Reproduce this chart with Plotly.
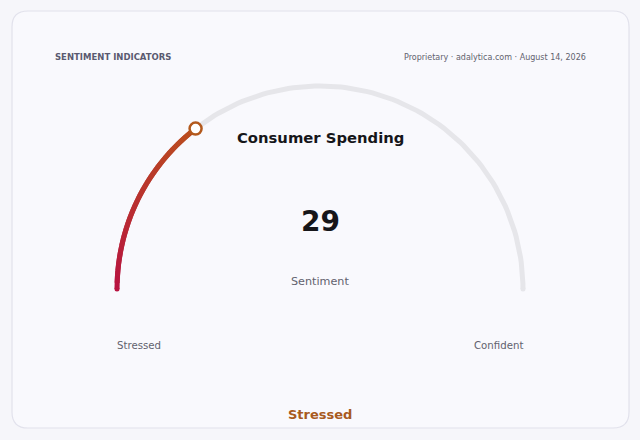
import plotly.graph_objects as go

# gauge data
TITLE = "Consumer Spending"
METRIC = "Sentiment"
VALUE = 29
VMIN, VMAX = 0, 100
LOW_LABEL = "Stressed"
HIGH_LABEL = "Confident"
STATUS = "Stressed"
HEADER = "SENTIMENT INDICATORS"
SOURCE = "Proprietary · adalytica.com · August 14, 2026"

COLOURS = {
    "page": "#f6f6fa", "card": "#f9f9fd", "border": "#e2e2ec",
    "track": "#e6e6ea", "start": (184, 20, 64), "end": (186, 78, 30),
    "ring": "#b3591c", "status": "#a85a1e", "text": "#16161a",
    "muted": "#62626e", "header": "#5a5a70",
}

W, H = 640, 440
CX, CY, R = 320, 289, 203      # gauge centre / radius in pixel space
FONT = "DejaVu Sans, sans-serif"


def arc_xy(v0, v1, n=60):
    import math
    xs, ys = [], []
    for i in range(n + 1):
        v = v0 + (v1 - v0) * i / n
        a = math.pi * (1 - (v - VMIN) / (VMAX - VMIN))
        xs.append(CX + R * math.cos(a))
        ys.append(CY - R * math.sin(a))
    return xs, ys


def mix(t):
    s, e = COLOURS["start"], COLOURS["end"]
    return "rgb(%d,%d,%d)" % tuple(round(s[k] + (e[k] - s[k]) * t) for k in range(3))


fig = go.Figure()

# grey track
tx, ty = arc_xy(VMIN, VMAX, 120)
fig.add_trace(go.Scatter(x=tx, y=ty, mode="lines", hoverinfo="skip",
                         line=dict(color=COLOURS["track"], width=5)))
fig.add_trace(go.Scatter(x=[tx[-1]], y=[ty[-1]], mode="markers", hoverinfo="skip",
                         marker=dict(color=COLOURS["track"], size=5)))

# value arc with a gradient, drawn as short overlapping segments
N = 30
step = (VALUE - VMIN) / N
for i in range(N):
    v0 = VMIN + step * i
    v1 = min(VALUE, v0 + step * 2)
    sx, sy = arc_xy(v0, v1, 4)
    fig.add_trace(go.Scatter(x=sx, y=sy, mode="lines", hoverinfo="skip",
                             line=dict(color=mix(i / (N - 1)), width=5)))
fig.add_trace(go.Scatter(x=[tx[0]], y=[ty[0]], mode="markers", hoverinfo="skip",
                         marker=dict(color=mix(0), size=5)))

# needle marker
px, py = arc_xy(VALUE, VALUE, 1)
fig.add_trace(go.Scatter(x=[px[0]], y=[py[0]], mode="markers", hoverinfo="skip",
                         marker=dict(color="white", size=12,
                                     line=dict(color=COLOURS["ring"], width=2.5))))

# card
rr = 16
x0, y0, x1, y1 = 12, 11, 629, 428
card = (f"M {x0+rr},{y0} L {x1-rr},{y0} Q {x1},{y0} {x1},{y0+rr} "
        f"L {x1},{y1-rr} Q {x1},{y1} {x1-rr},{y1} L {x0+rr},{y1} "
        f"Q {x0},{y1} {x0},{y1-rr} L {x0},{y0+rr} Q {x0},{y0} {x0+rr},{y0} Z")
fig.add_shape(type="path", path=card, xref="x", yref="y", layer="below",
              fillcolor=COLOURS["card"], line=dict(color=COLOURS["border"], width=1.2))


def label(x, y, text, size, color, bold=False, anchor="center"):
    fig.add_annotation(x=x, y=y, xref="x", yref="y", showarrow=False,
                       text=f"<b>{text}</b>" if bold else text,
                       xanchor=anchor, yanchor="middle",
                       font=dict(family=FONT, size=size, color=color))


label(53, 57, HEADER, 8.5, COLOURS["header"], bold=True, anchor="left")
label(588, 57, SOURCE, 8, COLOURS["muted"], anchor="right")
label(CX, 137, TITLE, 14.8, COLOURS["text"], bold=True)
label(CX, 221, str(VALUE), 28, COLOURS["text"], bold=True)
label(CX, 281, METRIC, 11.2, COLOURS["muted"])
label(139, 345, LOW_LABEL, 10.2, COLOURS["muted"])
label(498, 345, HIGH_LABEL, 10.2, COLOURS["muted"])
label(CX, 414, STATUS, 13, COLOURS["status"], bold=True)

fig.update_layout(
    width=W, height=H, margin=dict(l=0, r=0, t=0, b=0),
    paper_bgcolor=COLOURS["page"], plot_bgcolor=COLOURS["page"],
    showlegend=False,
    xaxis=dict(range=[0, W], visible=False, fixedrange=True),
    yaxis=dict(range=[H, 0], visible=False, fixedrange=True),
)

# page body has a default margin; drop it so the figure sits at the corner
fig.write_html("out.html", config={"displayModeBar": False},
               post_script="document.body.style.margin='0';"
                           "document.body.style.background='%s';" % COLOURS["page"])
